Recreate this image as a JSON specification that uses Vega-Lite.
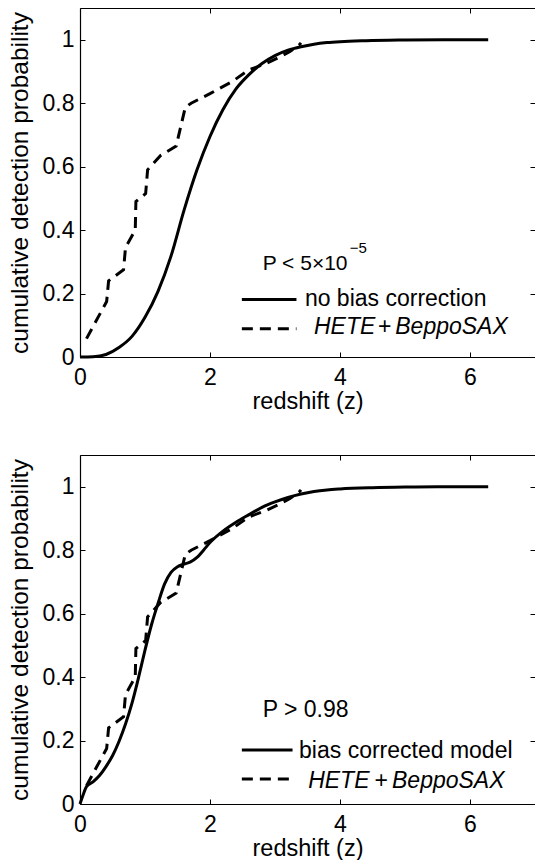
{
  "$schema": "https://vega.github.io/schema/vega-lite/v6.json",
  "padding": {"left": 7, "top": 7, "right": 0, "bottom": 0},
  "spacing": 41,
  "background": "white",
  "config": {
    "font": "Liberation Sans",
    "view": {"stroke": null},
    "axis": {
      "labelFont": "Liberation Sans", "titleFont": "Liberation Sans",
      "labelFontSize": 23, "titleFontSize": 23, "titleFontWeight": "normal",
      "labelColor": "black", "titleColor": "black",
      "domainColor": "black", "tickColor": "black", "domainWidth": 1.2, "tickWidth": 1,
      "grid": false, "tickSize": -5, "labelFlush": false
    },
    "axisX": {"titleFontSize": 23.5, "labelPadding": 14, "titlePadding": 0},
    "axisY": {"titleFontSize": 24.5, "labelPadding": 11, "titlePadding": 9.5}
  },
  "datasets": {
    "model_top": [
      {"z": 0, "p": 0}, {"z": 0.2, "p": 0.001}, {"z": 0.4, "p": 0.008}, {"z": 0.6, "p": 0.03},
      {"z": 0.8, "p": 0.065}, {"z": 1.0, "p": 0.125}, {"z": 1.2, "p": 0.207}, {"z": 1.4, "p": 0.318},
      {"z": 1.6, "p": 0.462}, {"z": 1.8, "p": 0.59}, {"z": 2.0, "p": 0.695}, {"z": 2.2, "p": 0.78},
      {"z": 2.4, "p": 0.845}, {"z": 2.6, "p": 0.89}, {"z": 2.8, "p": 0.925}, {"z": 3.0, "p": 0.95},
      {"z": 3.2, "p": 0.967}, {"z": 3.4, "p": 0.978}, {"z": 3.6, "p": 0.986}, {"z": 3.8, "p": 0.991},
      {"z": 4.0, "p": 0.994}, {"z": 4.4, "p": 0.997}, {"z": 5.0, "p": 0.999}, {"z": 5.6, "p": 1.0},
      {"z": 6.28, "p": 1.0}
    ],
    "model_bottom": [
      {"z": 0, "p": 0}, {"z": 0.05, "p": 0.03}, {"z": 0.1, "p": 0.055}, {"z": 0.2, "p": 0.07},
      {"z": 0.3, "p": 0.09}, {"z": 0.4, "p": 0.118}, {"z": 0.5, "p": 0.152}, {"z": 0.6, "p": 0.197},
      {"z": 0.7, "p": 0.252}, {"z": 0.8, "p": 0.318}, {"z": 0.9, "p": 0.398}, {"z": 1.0, "p": 0.485},
      {"z": 1.1, "p": 0.565}, {"z": 1.2, "p": 0.632}, {"z": 1.3, "p": 0.693}, {"z": 1.4, "p": 0.73},
      {"z": 1.5, "p": 0.748}, {"z": 1.6, "p": 0.756}, {"z": 1.7, "p": 0.763}, {"z": 1.8, "p": 0.777},
      {"z": 1.9, "p": 0.8}, {"z": 2.0, "p": 0.824}, {"z": 2.2, "p": 0.86}, {"z": 2.4, "p": 0.888},
      {"z": 2.6, "p": 0.912}, {"z": 2.8, "p": 0.935}, {"z": 3.0, "p": 0.952}, {"z": 3.2, "p": 0.966},
      {"z": 3.4, "p": 0.977}, {"z": 3.6, "p": 0.985}, {"z": 3.8, "p": 0.99}, {"z": 4.0, "p": 0.993},
      {"z": 4.5, "p": 0.997}, {"z": 5.0, "p": 0.999}, {"z": 5.5, "p": 1.0}, {"z": 6.28, "p": 1.0}
    ],
    "hete": [
      {"z": 0.1, "p": 0.058}, {"z": 0.41, "p": 0.175}, {"z": 0.44, "p": 0.24}, {"z": 0.67, "p": 0.275},
      {"z": 0.7, "p": 0.345}, {"z": 0.85, "p": 0.4}, {"z": 0.86, "p": 0.49}, {"z": 1.01, "p": 0.515},
      {"z": 1.04, "p": 0.59}, {"z": 1.24, "p": 0.635}, {"z": 1.48, "p": 0.665}, {"z": 1.62, "p": 0.787},
      {"z": 1.71, "p": 0.8}, {"z": 2.0, "p": 0.83}, {"z": 2.34, "p": 0.868}, {"z": 2.6, "p": 0.905},
      {"z": 2.86, "p": 0.925}, {"z": 3.07, "p": 0.945}, {"z": 3.23, "p": 0.963}, {"z": 3.38, "p": 0.985},
      {"z": 3.4, "p": 0.99}
    ]
  },
  "vconcat": [
    {
      "width": 455, "height": 349,
      "resolve": {"axis": {"x": "independent", "y": "independent"}},
      "layer": [
        {
          "data": {"name": "model_top"},
          "mark": {"type": "line", "color": "black", "strokeWidth": 3, "interpolate": "monotone"},
          "encoding": {
            "x": {"field": "z", "type": "quantitative", "scale": {"domain": [0, 7], "nice": false, "zero": false},
                  "axis": {"title": "redshift (z)", "values": [0, 2, 4, 6], "format": "d"}},
            "y": {"field": "p", "type": "quantitative", "scale": {"domain": [0, 1.1], "nice": false},
                  "axis": {"title": "cumulative detection probability", "values": [0, 0.2, 0.4, 0.6, 0.8, 1], "format": "~g"}}
          }
        },
        {
          "data": {"name": "hete"},
          "mark": {"type": "line", "color": "black", "strokeWidth": 3, "strokeDash": [11, 7]},
          "encoding": {
            "x": {"field": "z", "type": "quantitative", "axis": null},
            "y": {"field": "p", "type": "quantitative", "axis": null}
          }
        },
        {
          "data": {"values": [
            {"series": "model", "x": 2.49, "x2": 3.33, "y": 0.181},
            {"series": "HETE", "x": 2.49, "x2": 3.33, "y": 0.089}
          ]},
          "mark": {"type": "rule", "color": "black", "strokeWidth": 3},
          "encoding": {
            "x": {"field": "x", "type": "quantitative", "axis": null},
            "x2": {"field": "x2"},
            "y": {"field": "y", "type": "quantitative", "axis": null},
            "strokeDash": {"field": "series", "type": "nominal", "scale": {"domain": ["model", "HETE"], "range": [[1, 0], [11, 7]]}, "legend": null}
          }
        },
        {
          "data": {"values": [
            {"x": 3.46, "y": 0.16, "t": "no bias correction"},
            {"x": 4.585, "y": 0.074, "t": "+"}
          ]},
          "mark": {"type": "text", "align": "left", "baseline": "alphabetic", "fontSize": 23, "color": "black"},
          "encoding": {
            "x": {"field": "x", "type": "quantitative", "axis": null},
            "y": {"field": "y", "type": "quantitative", "axis": null},
            "text": {"field": "t"}
          }
        },
        {
          "data": {"values": [
            {"x": 3.6, "y": 0.074, "t": "HETE"},
            {"x": 4.85, "y": 0.074, "t": "BeppoSAX"}
          ]},
          "mark": {"type": "text", "align": "left", "baseline": "alphabetic", "fontSize": 23, "fontStyle": "italic", "color": "black"},
          "encoding": {
            "x": {"field": "x", "type": "quantitative", "axis": null},
            "y": {"field": "y", "type": "quantitative", "axis": null},
            "text": {"field": "t"}
          }
        },
        {
          "data": {"values": [{"x": 2.81, "y": 0.275, "t": "P < 5×10"}]},
          "mark": {"type": "text", "align": "left", "baseline": "alphabetic", "fontSize": 21, "color": "black"},
          "encoding": {
            "x": {"field": "x", "type": "quantitative", "axis": null},
            "y": {"field": "y", "type": "quantitative", "axis": null},
            "text": {"field": "t"}
          }
        },
        {
          "data": {"values": [{"x": 4.15, "y": 0.327, "t": "−5"}]},
          "mark": {"type": "text", "align": "left", "baseline": "alphabetic", "fontSize": 15, "color": "black"},
          "encoding": {
            "x": {"field": "x", "type": "quantitative", "axis": null},
            "y": {"field": "y", "type": "quantitative", "axis": null},
            "text": {"field": "t"}
          }
        },
        {
          "data": {"name": "model_top"},
          "mark": {"type": "line", "strokeOpacity": 0},
          "encoding": {
            "x": {"field": "z", "type": "quantitative", "axis": {"orient": "top", "labels": false, "title": null, "values": [0, 2, 4, 6], "domain": true}},
            "y": {"field": "p", "type": "quantitative", "axis": {"orient": "right", "labels": false, "title": null, "values": [0, 0.2, 0.4, 0.6, 0.8, 1], "domain": false}}
          }
        }
      ]
    },
    {
      "width": 455, "height": 349,
      "resolve": {"axis": {"x": "independent", "y": "independent"}},
      "layer": [
        {
          "data": {"name": "model_bottom"},
          "mark": {"type": "line", "color": "black", "strokeWidth": 3, "interpolate": "monotone"},
          "encoding": {
            "x": {"field": "z", "type": "quantitative", "scale": {"domain": [0, 7], "nice": false, "zero": false},
                  "axis": {"title": "redshift (z)", "values": [0, 2, 4, 6], "format": "d"}},
            "y": {"field": "p", "type": "quantitative", "scale": {"domain": [0, 1.1], "nice": false},
                  "axis": {"title": "cumulative detection probability", "values": [0, 0.2, 0.4, 0.6, 0.8, 1], "format": "~g"}}
          }
        },
        {
          "data": {"name": "hete"},
          "mark": {"type": "line", "color": "black", "strokeWidth": 3, "strokeDash": [11, 7]},
          "encoding": {
            "x": {"field": "z", "type": "quantitative", "axis": null},
            "y": {"field": "p", "type": "quantitative", "axis": null}
          }
        },
        {
          "data": {"values": [
            {"series": "model", "x": 2.49, "x2": 3.27, "y": 0.17},
            {"series": "HETE", "x": 2.49, "x2": 3.27, "y": 0.0785}
          ]},
          "mark": {"type": "rule", "color": "black", "strokeWidth": 3},
          "encoding": {
            "x": {"field": "x", "type": "quantitative", "axis": null},
            "x2": {"field": "x2"},
            "y": {"field": "y", "type": "quantitative", "axis": null},
            "strokeDash": {"field": "series", "type": "nominal", "scale": {"domain": ["model", "HETE"], "range": [[1, 0], [11, 7]]}, "legend": null}
          }
        },
        {
          "data": {"values": [
            {"x": 3.37, "y": 0.1445, "t": "bias corrected model"},
            {"x": 4.53, "y": 0.05, "t": "+"}
          ]},
          "mark": {"type": "text", "align": "left", "baseline": "alphabetic", "fontSize": 23, "color": "black"},
          "encoding": {
            "x": {"field": "x", "type": "quantitative", "axis": null},
            "y": {"field": "y", "type": "quantitative", "axis": null},
            "text": {"field": "t"}
          }
        },
        {
          "data": {"values": [
            {"x": 3.51, "y": 0.05, "t": "HETE"},
            {"x": 4.8, "y": 0.05, "t": "BeppoSAX"}
          ]},
          "mark": {"type": "text", "align": "left", "baseline": "alphabetic", "fontSize": 23, "fontStyle": "italic", "color": "black"},
          "encoding": {
            "x": {"field": "x", "type": "quantitative", "axis": null},
            "y": {"field": "y", "type": "quantitative", "axis": null},
            "text": {"field": "t"}
          }
        },
        {
          "data": {"values": [{"x": 2.81, "y": 0.274, "t": "P > 0.98"}]},
          "mark": {"type": "text", "align": "left", "baseline": "alphabetic", "fontSize": 23, "color": "black"},
          "encoding": {
            "x": {"field": "x", "type": "quantitative", "axis": null},
            "y": {"field": "y", "type": "quantitative", "axis": null},
            "text": {"field": "t"}
          }
        },
        {
          "data": {"name": "model_bottom"},
          "mark": {"type": "line", "strokeOpacity": 0},
          "encoding": {
            "x": {"field": "z", "type": "quantitative", "axis": {"orient": "top", "labels": false, "title": null, "values": [0, 2, 4, 6], "domain": true}},
            "y": {"field": "p", "type": "quantitative", "axis": {"orient": "right", "labels": false, "title": null, "values": [0, 0.2, 0.4, 0.6, 0.8, 1], "domain": false}}
          }
        }
      ]
    }
  ]
}
